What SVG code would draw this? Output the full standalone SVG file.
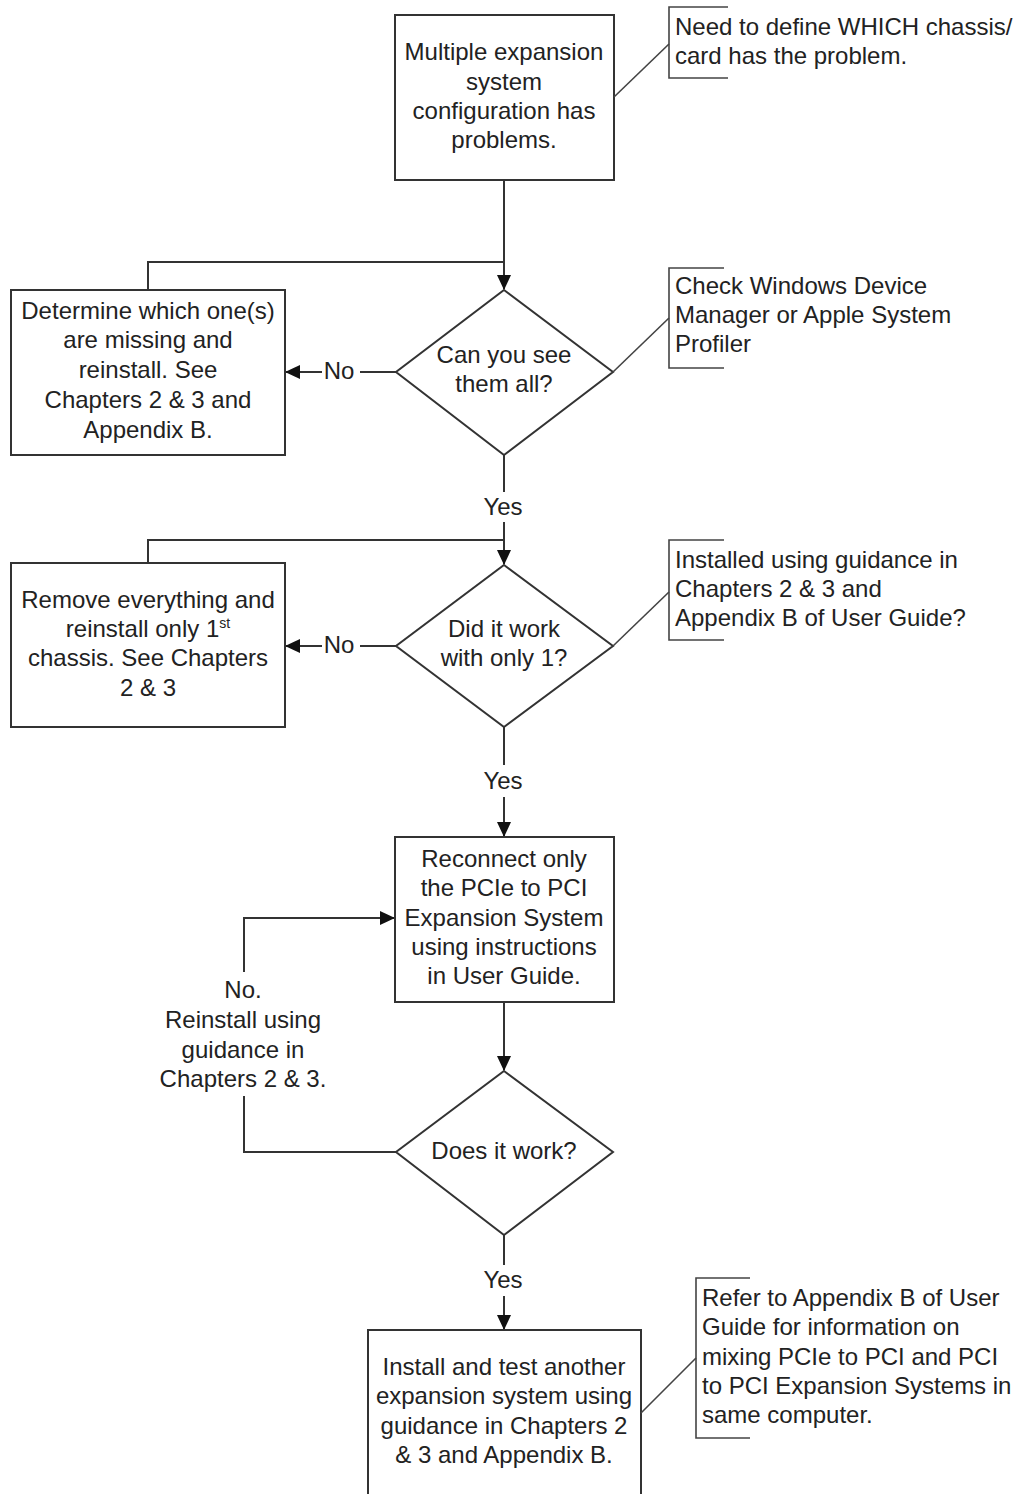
<svg xmlns="http://www.w3.org/2000/svg" width="1021" height="1494" viewBox="0 0 1021 1494">
<style>
text{font-family:"Liberation Sans",Arial,sans-serif;font-size:24px;fill:#222}
.c{text-anchor:middle}
.box{fill:#fff;stroke:#333;stroke-width:2}
.ln{fill:none;stroke:#333;stroke-width:2}
.ann{fill:none;stroke:#444;stroke-width:1.6}
</style>
<defs>
<marker id="ah" markerWidth="15" markerHeight="14" refX="14" refY="7" orient="auto" markerUnits="userSpaceOnUse">
<path d="M0,0 L15,7 L0,14 Z" fill="#111"/>
</marker>
</defs>
<rect width="1021" height="1494" fill="#fff"/>

<g id="connectors">
<path class="ln" d="M504,180 V289" marker-end="url(#ah)"/>
<path class="ln" d="M148,290 V262 H504"/>
<path class="ln" d="M396,372 H360"/>
<path class="ln" d="M322,372 H286" marker-end="url(#ah)"/>
<path class="ln" d="M504,455 V492"/>
<path class="ln" d="M504,522 V564" marker-end="url(#ah)"/>
<path class="ln" d="M148,563 V540 H504"/>
<path class="ln" d="M396,646 H360"/>
<path class="ln" d="M322,646 H286" marker-end="url(#ah)"/>
<path class="ln" d="M504,727 V765"/>
<path class="ln" d="M504,797 V836" marker-end="url(#ah)"/>
<path class="ln" d="M504,1002 V1070" marker-end="url(#ah)"/>
<path class="ln" d="M396,1152 H244 V1096"/>
<path class="ln" d="M244,972 V918 H394" marker-end="url(#ah)"/>
<path class="ln" d="M504,1235 V1265"/>
<path class="ln" d="M504,1296 V1329" marker-end="url(#ah)"/>
<text class="c" x="339" y="379">No</text>
<text class="c" x="339" y="653">No</text>
<text class="c" x="503" y="515">Yes</text>
<text class="c" x="503" y="789">Yes</text>
<text class="c" x="503" y="1288">Yes</text>
<text class="c" x="243" y="998">No.</text>
<text class="c" x="243" y="1028">Reinstall using</text>
<text class="c" x="243" y="1058">guidance in</text>
<text class="c" x="243" y="1087">Chapters 2 &amp; 3.</text>
</g>

<g id="start">
<rect class="box" x="395" y="15" width="219" height="165"/>
<text class="c" x="504" y="60">Multiple expansion</text>
<text class="c" x="504" y="90">system</text>
<text class="c" x="504" y="119">configuration has</text>
<text class="c" x="504" y="148">problems.</text>
</g>

<g id="note1">
<path class="ann" d="M614,97 L669,44"/>
<path class="ann" d="M728,7 H669 V78 H728"/>
<text x="675" y="35">Need to define WHICH chassis/</text>
<text x="675" y="64">card has the problem.</text>
</g>

<g id="missing">
<rect class="box" x="11" y="290" width="274" height="165"/>
<text class="c" x="148" y="319">Determine which one(s)</text>
<text class="c" x="148" y="348">are missing and</text>
<text class="c" x="148" y="378">reinstall. See</text>
<text class="c" x="148" y="408">Chapters 2 &amp; 3 and</text>
<text class="c" x="148" y="438">Appendix B.</text>
</g>

<g id="see-all">
<path class="box" d="M504,290 L613,372 L504,455 L396,372 Z"/>
<text class="c" x="504" y="363">Can you see</text>
<text class="c" x="504" y="392">them all?</text>
</g>

<g id="note2">
<path class="ann" d="M613,372 L669,318"/>
<path class="ann" d="M724,268 H669 V368 H724"/>
<text x="675" y="294">Check Windows Device</text>
<text x="675" y="323">Manager or Apple System</text>
<text x="675" y="352">Profiler</text>
</g>

<g id="remove">
<rect class="box" x="11" y="563" width="274" height="164"/>
<text class="c" x="148" y="608">Remove everything and</text>
<text class="c" x="148" y="637">reinstall only 1<tspan font-size="14" dy="-9">st</tspan></text>
<text class="c" x="148" y="666">chassis. See Chapters</text>
<text class="c" x="148" y="696">2 &amp; 3</text>
</g>

<g id="only-one">
<path class="box" d="M504,565 L613,646 L504,727 L396,646 Z"/>
<text class="c" x="504" y="637">Did it work</text>
<text class="c" x="504" y="666">with only 1?</text>
</g>

<g id="note3">
<path class="ann" d="M613,646 L669,592"/>
<path class="ann" d="M724,540 H669 V640 H724"/>
<text x="675" y="568">Installed using guidance in</text>
<text x="675" y="597">Chapters 2 &amp; 3 and</text>
<text x="675" y="626">Appendix B of User Guide?</text>
</g>

<g id="reconnect">
<rect class="box" x="395" y="837" width="219" height="165"/>
<text class="c" x="504" y="867">Reconnect only</text>
<text class="c" x="504" y="896">the PCIe to PCI</text>
<text class="c" x="504" y="926">Expansion System</text>
<text class="c" x="504" y="955">using instructions</text>
<text class="c" x="504" y="984">in User Guide.</text>
</g>

<g id="works">
<path class="box" d="M504,1071 L613,1152 L504,1235 L396,1152 Z"/>
<text class="c" x="504" y="1159">Does it work?</text>
</g>

<g id="install-another">
<rect class="box" x="368" y="1330" width="273" height="180"/>
<text class="c" x="504" y="1375">Install and test another</text>
<text class="c" x="504" y="1404">expansion system using</text>
<text class="c" x="504" y="1434">guidance in Chapters 2</text>
<text class="c" x="504" y="1463">&amp; 3 and Appendix B.</text>
</g>

<g id="note4">
<path class="ann" d="M641,1413 L696,1358"/>
<path class="ann" d="M750,1278 H696 V1438 H750"/>
<text x="702" y="1306">Refer to Appendix B of User</text>
<text x="702" y="1335">Guide for information on</text>
<text x="702" y="1365">mixing PCIe to PCI and PCI</text>
<text x="702" y="1394">to PCI Expansion Systems in</text>
<text x="702" y="1423">same computer.</text>
</g>
</svg>
